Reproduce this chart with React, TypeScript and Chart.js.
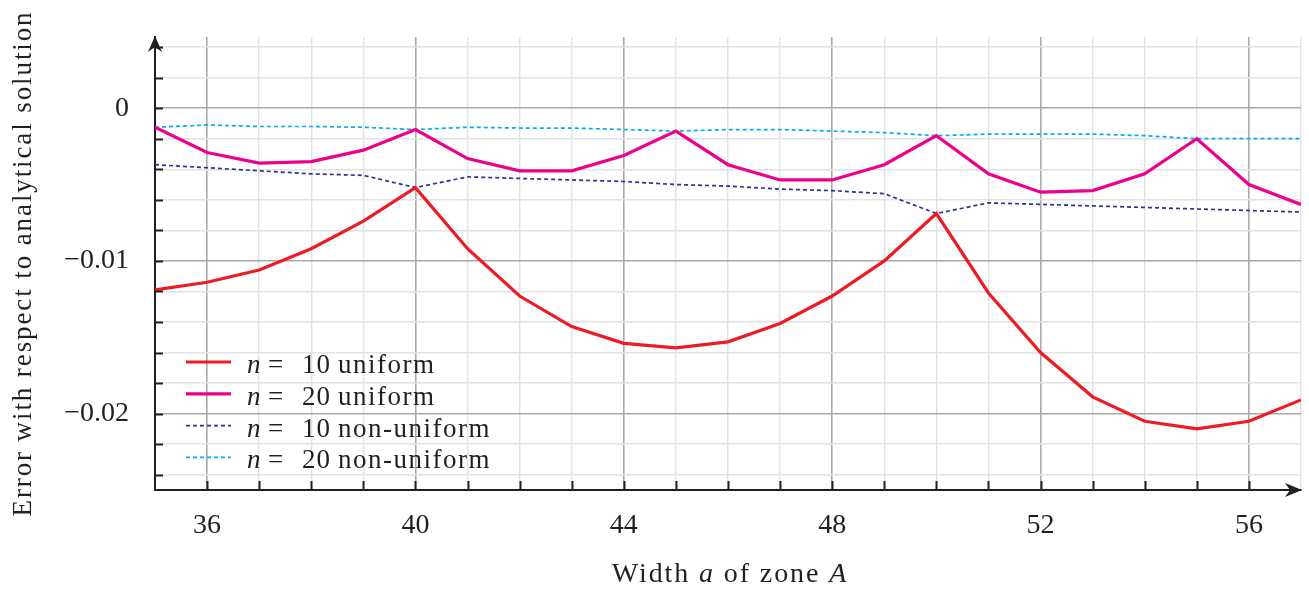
import React, { useEffect, useRef } from "react";
import { Chart, registerables } from "chart.js";

Chart.register(...registerables);

// ---------- data ----------
const widthA = [35, 36, 37, 38, 39, 40, 41, 42, 43, 44, 45, 46, 47, 48, 49, 50, 51, 52, 53, 54, 55, 56, 57];
const n10Uniform = [-0.0119, -0.0114, -0.0106, -0.0092, -0.0074, -0.0052, -0.0092, -0.0123, -0.0143, -0.0154, -0.0157, -0.0153, -0.0141, -0.0123, -0.0100, -0.0069, -0.0121, -0.0160, -0.0189, -0.0205, -0.0210, -0.0205, -0.0191];
const n20Uniform = [-0.00125, -0.0029, -0.0036, -0.0035, -0.00275, -0.0014, -0.0033, -0.0041, -0.0041, -0.0031, -0.0015, -0.0037, -0.0047, -0.0047, -0.0037, -0.0018, -0.0043, -0.0055, -0.0054, -0.0043, -0.0020, -0.0050, -0.0063];
const n10NonUniform = [-0.0037, -0.0039, -0.0041, -0.0043, -0.0044, -0.0052, -0.0045, -0.0046, -0.0047, -0.0048, -0.0050, -0.0051, -0.0053, -0.0054, -0.0056, -0.0069, -0.0062, -0.0063, -0.0064, -0.0065, -0.0066, -0.0067, -0.0068];
const n20NonUniform = [-0.00125, -0.0011, -0.0012, -0.0012, -0.00125, -0.0014, -0.00125, -0.0013, -0.0013, -0.0014, -0.0015, -0.0014, -0.0014, -0.0015, -0.0016, -0.0018, -0.0017, -0.0017, -0.0017, -0.0018, -0.0020, -0.0020, -0.0020];
const seriesNames = ["n = 10 uniform", "n = 20 uniform", "n = 10 non-uniform", "n = 20 non-uniform"];
const xTickLabels = [36, 40, 44, 48, 52, 56];
const yTickLabels = [0, -0.01, -0.02];
const xTitleRuns = [
  { t: "Width ", italic: false },
  { t: "a", italic: true },
  { t: " of zone ", italic: false },
  { t: "A", italic: true },
];
const yTitle = "Error with respect to analytical solution";

// ---------- axis ranges ----------
const X_MIN = 35, X_MAX = 57, X_STEP = 1;
const Y_MIN = -0.025, Y_MAX = 0.00466, Y_STEP = 0.002;

const FONT = '"Liberation Serif", "Times New Roman", serif';
const INK = "#231f20";

const isYMajor = (v: number) => yTickLabels.some((t) => Math.abs(t - v) < 1e-9);
const isXMajor = (v: number) => xTickLabels.includes(v);

function fmtY(v: number): string {
  if (Math.abs(v) < 1e-12) return "0";
  const s = Math.abs(v).toFixed(2);
  return (v < 0 ? "\u2212" : "") + s;
}

type Run = { t: string; italic: boolean };
function drawRuns(ctx: CanvasRenderingContext2D, runs: Run[], size: number, cx: number, y: number, spacing: number) {
  (ctx as any).letterSpacing = spacing + "px";
  const widths = runs.map((r) => {
    ctx.font = `${r.italic ? "italic " : ""}${size}px ${FONT}`;
    return ctx.measureText(r.t).width;
  });
  const total = widths.reduce((a, b) => a + b, 0);
  let x = cx - total / 2;
  ctx.textAlign = "left";
  runs.forEach((r, i) => {
    ctx.font = `${r.italic ? "italic " : ""}${size}px ${FONT}`;
    ctx.fillText(r.t, x, y);
    x += widths[i];
  });
  (ctx as any).letterSpacing = "0px";
}

const titlesPlugin = {
  id: "mathTitles",
  afterDraw(chart: any) {
    const { ctx, chartArea } = chart;
    ctx.save();
    ctx.fillStyle = INK;
    ctx.textBaseline = "alphabetic";
    // x title
    drawRuns(ctx, xTitleRuns, 28, (chartArea.left + chartArea.right) / 2 + 2, chartArea.bottom + 92, 1.9);
    // y title
    ctx.translate(chartArea.left - 124, (chartArea.top + chartArea.bottom) / 2);
    ctx.rotate(-Math.PI / 2);
    drawRuns(ctx, [{ t: yTitle, italic: false }], 27, 0, 0, 1.9);
    ctx.restore();
  },
};

const axesPlugin = {
  id: "axisDecor",
  afterDraw(chart: any) {
    const { ctx, chartArea, scales } = chart;
    const { left, right, top, bottom } = chartArea;
    ctx.save();
    ctx.strokeStyle = INK;
    ctx.fillStyle = INK;
    ctx.lineWidth = 2;
    ctx.setLineDash([]);
    // inner tick marks
    scales.y.ticks.forEach((tk: any) => {
      const py = Math.round(scales.y.getPixelForValue(tk.value)) + 0.5;
      ctx.beginPath();
      ctx.moveTo(left, py);
      ctx.lineTo(left + 8, py);
      ctx.stroke();
    });
    scales.x.ticks.forEach((tk: any) => {
      if (tk.value <= X_MIN || tk.value >= X_MAX) return;
      const px = Math.round(scales.x.getPixelForValue(tk.value)) + 0.5;
      ctx.beginPath();
      ctx.moveTo(px, bottom);
      ctx.lineTo(px, bottom - 9);
      ctx.stroke();
    });
    // arrow heads (stealth)
    ctx.beginPath();
    ctx.moveTo(left, top - 1);
    ctx.lineTo(left - 7, top + 15);
    ctx.lineTo(left, top + 10);
    ctx.lineTo(left + 7, top + 15);
    ctx.closePath();
    ctx.fill();
    ctx.beginPath();
    ctx.moveTo(right + 1, bottom);
    ctx.lineTo(right - 16, bottom - 7);
    ctx.lineTo(right - 11, bottom);
    ctx.lineTo(right - 16, bottom + 7);
    ctx.closePath();
    ctx.fill();
    ctx.restore();
  },
};

const legendPlugin = {
  id: "mathLegend",
  afterDatasetsDraw(chart: any) {
    const { ctx, chartArea } = chart;
    const x0 = chartArea.left + 31;
    const x1 = x0 + 45;
    const tx = x0 + 61;
    const rowStep = 31.8;
    const firstRow = chartArea.bottom - 128;
    const size = 27;
    ctx.save();
    chart.data.datasets.forEach((ds: any, i: number) => {
      const y = firstRow + i * rowStep;
      ctx.strokeStyle = ds.borderColor;
      ctx.lineWidth = ds.borderWidth;
      ctx.setLineDash(ds.borderDash || []);
      ctx.beginPath();
      ctx.moveTo(x0, y);
      ctx.lineTo(x1, y);
      ctx.stroke();
      ctx.setLineDash([]);
      const parts = String(ds.label).split(" ");
      const sym = parts[0];
      const num = parts[2];
      const word = parts.slice(3).join(" ");
      const base = y + 11;
      ctx.fillStyle = INK;
      ctx.textBaseline = "alphabetic";
      ctx.textAlign = "left";
      ctx.font = `italic ${size}px ${FONT}`;
      ctx.fillText(sym, tx, base);
      ctx.font = `${size}px ${FONT}`;
      ctx.fillText("=", tx + 21, base);
      (ctx as any).letterSpacing = "1px";
      ctx.fillText(num, tx + 55, base);
      const nw = ctx.measureText(num).width;
      (ctx as any).letterSpacing = "1.5px";
      ctx.fillText(word, tx + 55 + nw + 7, base);
      (ctx as any).letterSpacing = "0px";
    });
    ctx.restore();
  },
};

const toPoints = (ys: number[]) => widthA.map((x, i) => ({ x, y: ys[i] }));

const zeroPadding = (scale: any) => {
  scale.paddingLeft = 0;
  scale.paddingRight = 0;
  scale.paddingTop = 0;
  scale.paddingBottom = 0;
};

export default function App() {
  const canvasRef = useRef<HTMLCanvasElement | null>(null);

  useEffect(() => {
    const canvas = canvasRef.current;
    if (!canvas) return;
    const chart = new Chart(canvas, {
      type: "line",
      data: {
        datasets: [
          { label: seriesNames[0], data: toPoints(n10Uniform), borderColor: "#ed1c24", borderWidth: 3.2, pointRadius: 0, tension: 0, fill: false },
          { label: seriesNames[1], data: toPoints(n20Uniform), borderColor: "#ec008c", borderWidth: 3.2, pointRadius: 0, tension: 0, fill: false },
          { label: seriesNames[2], data: toPoints(n10NonUniform), borderColor: "#2e3192", borderWidth: 1.7, borderDash: [4, 3], pointRadius: 0, tension: 0, fill: false },
          { label: seriesNames[3], data: toPoints(n20NonUniform), borderColor: "#00aeef", borderWidth: 1.7, borderDash: [4, 3], pointRadius: 0, tension: 0, fill: false },
        ],
      },
      options: {
        animation: false,
        responsive: false,
        devicePixelRatio: 1,
        layout: { padding: { left: 0, right: 8, top: 37, bottom: 0 } },
        plugins: { legend: { display: false }, tooltip: { enabled: false } },
        scales: {
          x: {
            type: "linear",
            min: X_MIN,
            max: X_MAX,
            afterBuildTicks: (scale: any) => {
              const ticks = [];
              for (let v = X_MIN; v <= X_MAX; v += X_STEP) ticks.push({ value: v });
              scale.ticks = ticks;
            },
            afterFit: (scale: any) => {
              scale.height = 100;
              zeroPadding(scale);
            },
            ticks: {
              autoSkip: false,
              maxRotation: 0,
              padding: 19,
              color: INK,
              font: { family: FONT, size: 28 },
              callback: (v: any) => (isXMajor(Number(v)) ? String(v) : ""),
            },
            grid: {
              drawTicks: false,
              color: (c: any) => (c.tick && isXMajor(c.tick.value) ? "#a9a9a9" : "#e2e2e2"),
              lineWidth: (c: any) => (c.tick && isXMajor(c.tick.value) ? 1.6 : 1.4),
            },
            border: { display: true, color: INK, width: 2 },
          },
          y: {
            type: "linear",
            min: Y_MIN,
            max: Y_MAX,
            afterBuildTicks: (scale: any) => {
              const ticks = [];
              const k0 = Math.ceil(Y_MIN / Y_STEP - 1e-9);
              const k1 = Math.floor(Y_MAX / Y_STEP + 1e-9);
              for (let k = k0; k <= k1; k++) ticks.push({ value: Math.round(k * Y_STEP * 1e6) / 1e6 });
              scale.ticks = ticks;
            },
            afterFit: (scale: any) => {
              scale.width = 155;
              zeroPadding(scale);
            },
            ticks: {
              autoSkip: false,
              padding: 26,
              color: INK,
              font: { family: FONT, size: 28 },
              callback: (v: any) => (isYMajor(Number(v)) ? fmtY(Number(v)) : ""),
            },
            grid: {
              drawTicks: false,
              color: (c: any) => (c.tick && isYMajor(c.tick.value) ? "#a9a9a9" : "#e2e2e2"),
              lineWidth: (c: any) => (c.tick && isYMajor(c.tick.value) ? 1.6 : 1.4),
            },
            border: { display: true, color: INK, width: 2 },
          },
        },
      },
      plugins: [legendPlugin, axesPlugin, titlesPlugin],
    } as any);
    return () => chart.destroy();
  }, []);

  return (
    <div style={{ position: "absolute", left: 0, top: 0, width: 1309, height: 590, background: "#fff" }}>
      <canvas ref={canvasRef} width={1309} height={590} style={{ display: "block", width: 1309, height: 590 }} />
    </div>
  );
}
